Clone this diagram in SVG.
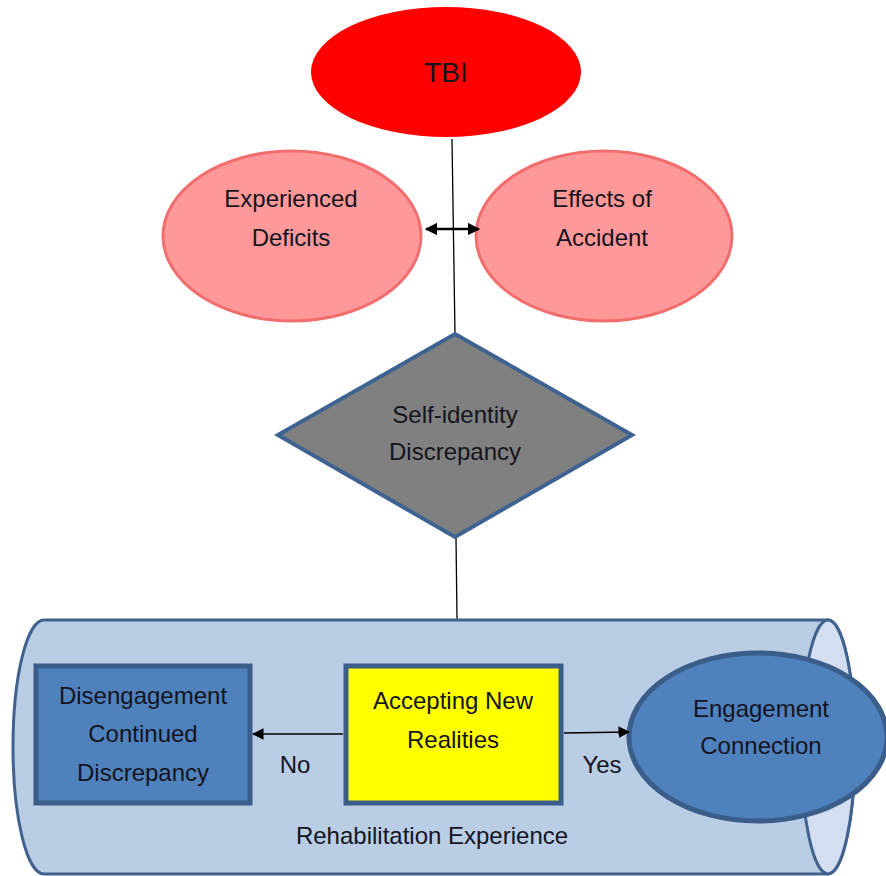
<svg xmlns="http://www.w3.org/2000/svg" width="886" height="876" viewBox="0 0 886 876">
  <defs>
    <marker id="arrow" viewBox="0 0 10 10" refX="9" refY="5" markerWidth="5" markerHeight="5" orient="auto-start-reverse" markerUnits="strokeWidth">
      <path d="M0,0 L10,5 L0,10 Z" fill="#000"/>
    </marker>
    <marker id="arrowSmall" viewBox="0 0 10 10" refX="9" refY="5" markerWidth="9" markerHeight="9" orient="auto-start-reverse" markerUnits="strokeWidth">
      <path d="M0,0 L10,5 L0,10 Z" fill="#000"/>
    </marker>
  </defs>
  <style>
    text { font-family: "Liberation Sans", Arial, sans-serif; font-size: 24px; fill: #14141e; text-anchor: middle; }
    .pink { fill: #ff9999; stroke: #f26d6d; stroke-width: 3; }
    .blue { fill: #4f81bd; stroke: #3b5d8a; stroke-width: 5; }
    .link { stroke: #000; stroke-width: 1.3; fill: none; }
    .thick { stroke-width: 2.5; }
  </style>
  <rect width="886" height="876" fill="#fff"/>

  <!-- connectors behind the shapes -->
  <g id="connectors">
    <line class="link" x1="452" y1="139" x2="455" y2="334"/>
    <line class="link" x1="456" y1="538" x2="457" y2="619"/>
  </g>

  <g id="tbi">
    <ellipse cx="446" cy="72" rx="135" ry="65" fill="#ff0000"/>
    <text x="446" y="82" style="font-size:28px">TBI</text>
  </g>

  <g id="experienced-deficits">
    <ellipse class="pink" cx="292" cy="236" rx="129" ry="85"/>
    <text x="291" y="207">Experienced</text>
    <text x="291" y="246">Deficits</text>
  </g>

  <g id="effects-of-accident">
    <ellipse class="pink" cx="604" cy="236" rx="128" ry="85"/>
    <text x="602" y="207">Effects of</text>
    <text x="602" y="246">Accident</text>
  </g>

  <g id="self-identity">
    <polygon points="455,334 632,435 455,537 278,435" fill="#808080" stroke="#3f6391" stroke-width="4" stroke-linejoin="miter"/>
    <text x="455" y="423">Self-identity</text>
    <text x="455" y="460">Discrepancy</text>
  </g>

  <g id="rehabilitation-experience">
    <path d="M44,620 L828,620 A27,127 0 0 1 828,874 L44,874 A31,127 0 0 1 44,620 Z" fill="#b9cde5" stroke="#41628f" stroke-width="3"/>
    <ellipse cx="828" cy="747" rx="27" ry="127" fill="#d3dff0" stroke="#41628f" stroke-width="3"/>
    <text x="432" y="844">Rehabilitation Experience</text>
  </g>

  <g id="disengagement">
    <rect class="blue" x="36" y="666" width="214" height="137"/>
    <text x="143" y="704">Disengagement</text>
    <text x="143" y="742">Continued</text>
    <text x="143" y="781">Discrepancy</text>
  </g>

  <g id="accepting-new-realities">
    <rect x="346" y="666" width="215" height="137" fill="#ffff00" stroke="#3b5d8a" stroke-width="5"/>
    <text x="453" y="709">Accepting New</text>
    <text x="453" y="748">Realities</text>
  </g>

  <g id="engagement-connection">
    <ellipse class="blue" cx="758" cy="737" rx="129" ry="84"/>
    <text x="761" y="717">Engagement</text>
    <text x="761" y="754">Connection</text>
  </g>

  <g id="connector-arrows">
    <line class="link thick" x1="426" y1="229" x2="479" y2="229" marker-start="url(#arrow)" marker-end="url(#arrow)"/>
    <line class="link" x1="343" y1="734" x2="253" y2="734" marker-end="url(#arrowSmall)"/>
    <line class="link" x1="564" y1="733" x2="629" y2="732" marker-end="url(#arrowSmall)"/>
    <text x="295" y="773">No</text>
    <text x="602" y="773">Yes</text>
  </g>
</svg>
